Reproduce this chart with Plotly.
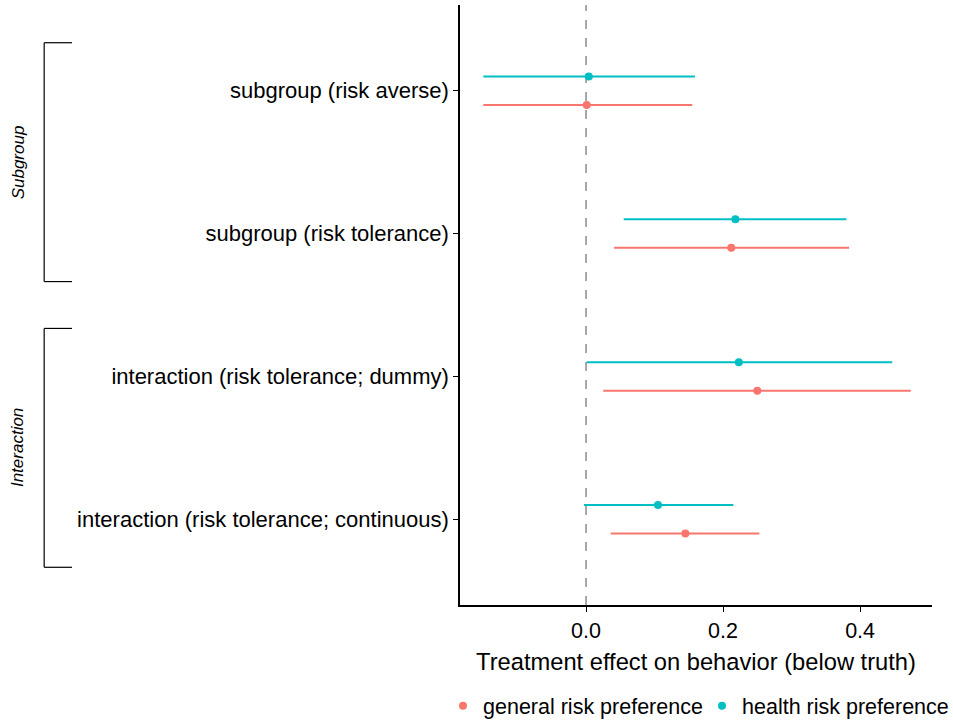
import plotly.graph_objects as go

categories = ["interaction (risk tolerance; continuous)",
              "interaction (risk tolerance; dummy)",
              "subgroup (risk tolerance)",
              "subgroup (risk averse)"]
cat_pos = [1, 2, 3, 4]

general_est = [0.145, 0.250, 0.212, 0.001]
general_lo = [0.036, 0.025, 0.041, -0.150]
general_hi = [0.253, 0.474, 0.384, 0.155]

health_est = [0.105, 0.223, 0.218, 0.004]
health_lo = [-0.003, 0.001, 0.055, -0.150]
health_hi = [0.215, 0.447, 0.380, 0.159]

groups = [("Subgroup", 3.5), ("Interaction", 1.5)]

RED = "#F8766D"
TEAL = "#00BFC4"
dodge = 0.1

fig = go.Figure()

def add_series(name, est, lo, hi, color, off):
    fig.add_trace(go.Scatter(
        x=est, y=[p + off for p in cat_pos], mode="markers", name=name,
        marker=dict(color=color, size=8),
        error_x=dict(type="data", symmetric=False,
                     array=[h - e for h, e in zip(hi, est)],
                     arrayminus=[e - l for e, l in zip(est, lo)],
                     color=color, thickness=2, width=0),
    ))

add_series("general risk preference", general_est, general_lo, general_hi, RED, -dodge)
add_series("health risk preference", health_est, health_lo, health_hi, TEAL, dodge)

shapes = [dict(type="line", xref="x", yref="paper", x0=0, x1=0, y0=0, y1=1,
               line=dict(color="#8C8C8C", width=1.5, dash="dash"), layer="below")]
bx0, bx1 = -0.881, -0.822
for name, c in groups:
    lo, hi = c - 0.836, c + 0.836
    for seg in [(bx0, lo, bx0, hi), (bx0, lo, bx1, lo), (bx0, hi, bx1, hi)]:
        shapes.append(dict(type="line", xref="paper", yref="y",
                           x0=seg[0], y0=seg[1], x1=seg[2], y1=seg[3],
                           line=dict(color="black", width=1.2)))

annotations = [dict(text=f"<i>{name}</i>", xref="paper", yref="y", x=-0.936, y=c,
                    textangle=-90, showarrow=False, font=dict(size=17, color="black"),
                    xanchor="center", yanchor="middle")
               for name, c in groups]

fig.update_layout(
    width=953, height=721,
    margin=dict(l=460, r=21, t=5, b=116, autoexpand=False),
    plot_bgcolor="white", paper_bgcolor="white",
    font=dict(family="Liberation Sans, Arial, sans-serif", color="black"),
    shapes=shapes, annotations=annotations,
    showlegend=True,
    legend=dict(orientation="h", x=-0.036, xanchor="left", y=-0.168, yanchor="middle",
                font=dict(size=21.5, color="black"), itemwidth=30,
                entrywidth=214, entrywidthmode="pixels",
                tracegroupgap=0),
    xaxis=dict(range=[-0.184, 0.505], tickvals=[0.0, 0.2, 0.4],
               ticktext=["0.0", "0.2", "0.4"], showgrid=False, zeroline=False,
               showline=True, linecolor="black", linewidth=1.5,
               ticks="outside", ticklen=5, tickcolor="black", tickwidth=1.2,
               tickfont=dict(size=21.5, color="black"),
               title=dict(text="Treatment effect on behavior (below truth)",
                          font=dict(size=23.7, color="black"), standoff=12)),
    yaxis=dict(range=[0.4, 4.6], tickvals=cat_pos, ticktext=categories,
               showgrid=False, zeroline=False,
               showline=True, linecolor="black", linewidth=1.5,
               ticks="outside", ticklen=5, tickcolor="black", tickwidth=1.2,
               tickfont=dict(size=22, color="black")),
)

fig.write_html("out.html")
